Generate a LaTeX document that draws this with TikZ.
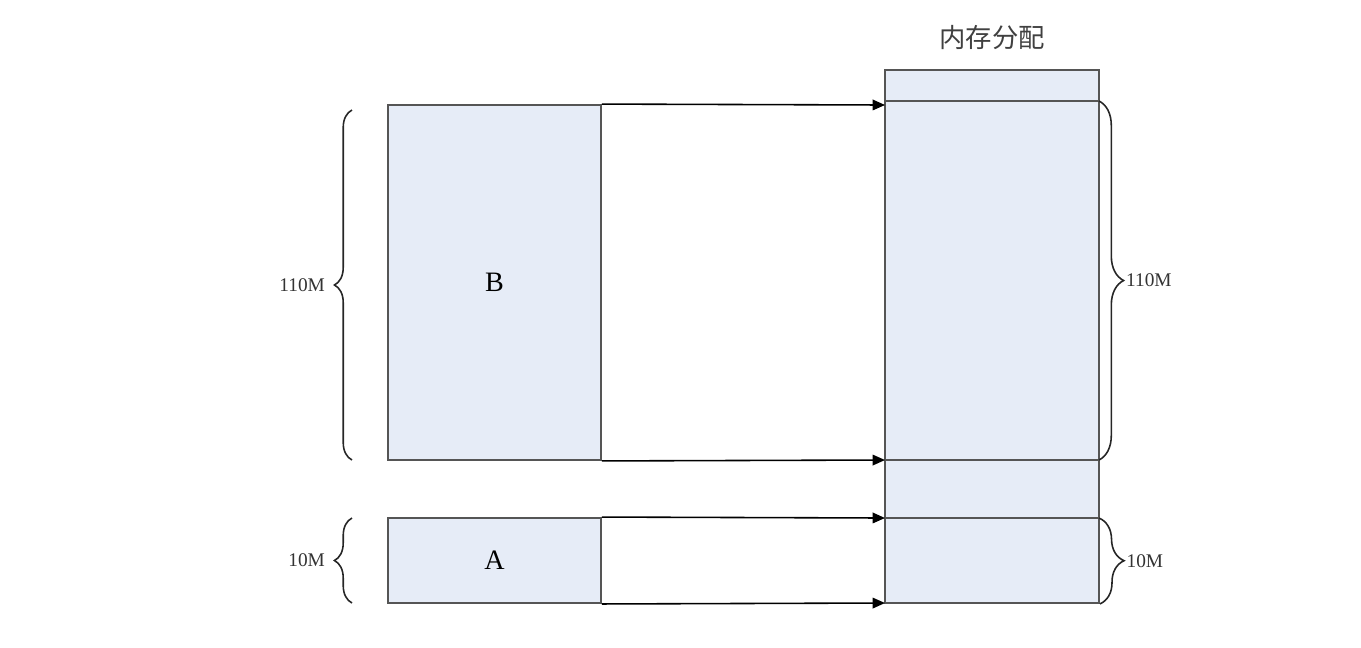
\documentclass[tikz,border=0pt]{standalone}
\usepackage{fontspec}
\setmainfont{Liberation Serif}
\newfontfamily\cjk{Noto Sans CJK SC}
\usetikzlibrary{positioning,arrows.meta,decorations.pathreplacing}

\definecolor{memfill}{HTML}{E6ECF7}
\definecolor{memline}{HTML}{555555}

\tikzset{
  block/.style={draw=memline, line width=1.1pt, fill=memfill, inner sep=0pt,
    minimum width=4.26cm, font=\fontsize{16}{18}\selectfont},
  mapto/.style={-{Triangle[length=7pt,width=6pt]}, line width=0.9pt},
  sizebrace/.style={decorate, decoration={brace, amplitude=#1}, line width=0.9pt, draw=black!85},
  sizelabel/.style={font=\fontsize{11}{13}\selectfont, text=black!80, inner sep=1pt}
}

\begin{document}
\begin{tikzpicture}[x=0.02cm, y=-0.02cm]
    \useasboundingbox (0,0) rectangle (1361,647);

    % Memoria
    \node[block, minimum width=4.28cm, minimum height=10.66cm] (mem) at (992,336.5) {};
    \node[font=\cjk\fontsize{15}{17}\selectfont, text=black!75] (title) at (992,38) {内存分配};

    \coordinate (m1) at (885,101);
    \coordinate (m2) at (885,460);
    \coordinate (m3) at (885,518);
    \coordinate (m1r) at (1099,101);
    \coordinate (m2r) at (1099,460);
    \coordinate (m3r) at (1099,518);
    \draw[memline, line width=1.1pt] (m1) -- (m1r);
    \draw[memline, line width=1.1pt] (m2) -- (m2r);
    \draw[memline, line width=1.1pt] (m3) -- (m3r);

    % Bloques
    \node[block, minimum height=7.1cm] (B) at (494.5,282.5) {B};
    \node[block, minimum height=1.7cm] (A) at (494.5,560.5) {A};

    % Flechas
    \coordinate (bt) at (885,105);
    \coordinate (ab) at (885,603);
    \draw[mapto] (B.north east) -- (bt);
    \draw[mapto] (B.south east) -- (m2);
    \draw[mapto] (A.north east) -- (m3);
    \draw[mapto] (A.south east) -- (ab);

    % Llaves
    \draw[sizebrace=10pt] (352,460) -- (352,110) node[midway, left=14pt, sizelabel] (lb) {110M};
    \draw[sizebrace=10pt] (352,603) -- (352,518) node[midway, left=14pt, sizelabel] (la) {10M};
    \draw[sizebrace=14pt] (m1r) -- (m2r) node[midway, right=14pt, sizelabel] (rb) {110M};
    \draw[sizebrace=14pt] (m3r) -- (mem.south east) node[midway, right=14pt, sizelabel] (ra) {10M};
\end{tikzpicture}
\end{document}
